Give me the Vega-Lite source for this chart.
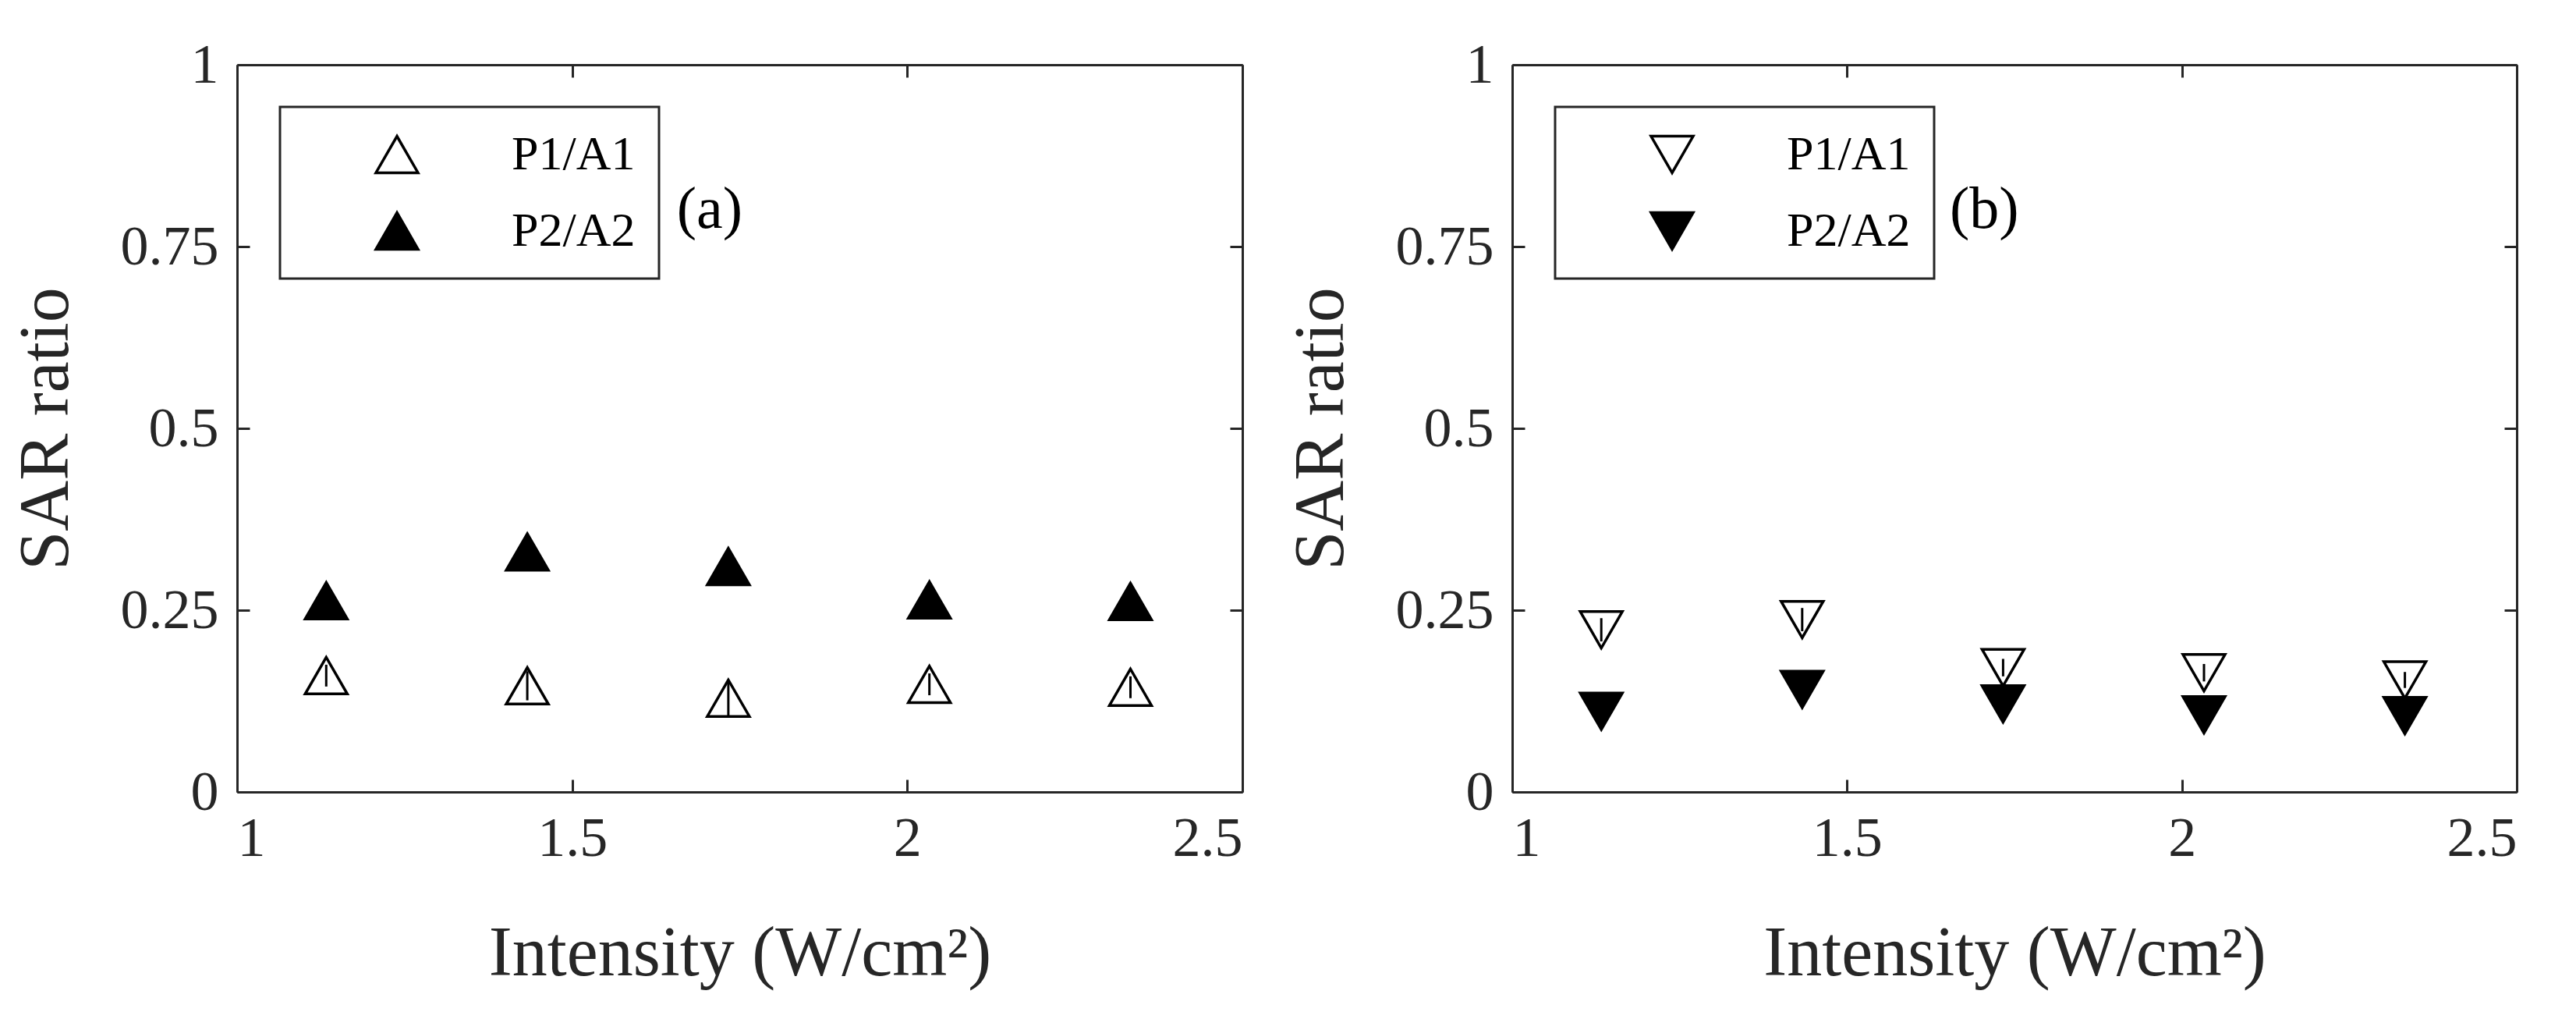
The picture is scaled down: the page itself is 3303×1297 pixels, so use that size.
{
  "$schema": "https://vega.github.io/schema/vega-lite/v6.json",
  "background": "white",
  "padding": {"left": 14, "top": 47, "right": 10, "bottom": 10},
  "bounds": "flush",
  "spacing": 346,
  "config": {
    "font": "Liberation Serif",
    "view": {"stroke": null},
    "axis": {
      "grid": false,
      "domainColor": "#262626",
      "domainWidth": 3,
      "tickColor": "#262626",
      "tickWidth": 3,
      "tickSize": -16,
      "labelFont": "Liberation Serif",
      "labelFontSize": 72,
      "labelColor": "#262626",
      "titleFont": "Liberation Serif",
      "titleFontSize": 90,
      "titleFontWeight": "normal",
      "titleColor": "#262626"
    },
    "legend": {
      "orient": "none",
      "legendX": 55,
      "legendY": 54,
      "padding": 30,
      "rowPadding": 36,
      "strokeColor": "#262626",
      "strokeWidth": 3,
      "fillColor": "white",
      "labelFont": "Liberation Serif",
      "labelFontSize": 62,
      "labelColor": "black",
      "symbolSize": 2916,
      "symbolStrokeColor": "black",
      "symbolStrokeWidth": 3.5,
      "symbolOffset": 89,
      "labelOffset": 116,
      "title": null
    }
  },
  "datasets": {
    "sar": [
      {"panel": "a", "intensity": 1.133, "series": "P1/A1", "ratio": 0.160, "err": 0.015},
      {"panel": "a", "intensity": 1.433, "series": "P1/A1", "ratio": 0.146, "err": 0.020},
      {"panel": "a", "intensity": 1.733, "series": "P1/A1", "ratio": 0.129, "err": 0.024},
      {"panel": "a", "intensity": 2.033, "series": "P1/A1", "ratio": 0.148, "err": 0.015},
      {"panel": "a", "intensity": 2.333, "series": "P1/A1", "ratio": 0.144, "err": 0.015},
      {"panel": "a", "intensity": 1.133, "series": "P2/A2", "ratio": 0.263, "err": 0.012},
      {"panel": "a", "intensity": 1.433, "series": "P2/A2", "ratio": 0.330, "err": 0.020},
      {"panel": "a", "intensity": 1.733, "series": "P2/A2", "ratio": 0.310, "err": 0.020},
      {"panel": "a", "intensity": 2.033, "series": "P2/A2", "ratio": 0.264, "err": 0.012},
      {"panel": "a", "intensity": 2.333, "series": "P2/A2", "ratio": 0.262, "err": 0.012},
      {"panel": "b", "intensity": 1.133, "series": "P1/A1", "ratio": 0.223, "err": 0.016},
      {"panel": "b", "intensity": 1.433, "series": "P1/A1", "ratio": 0.237, "err": 0.016},
      {"panel": "b", "intensity": 1.733, "series": "P1/A1", "ratio": 0.171, "err": 0.012},
      {"panel": "b", "intensity": 2.033, "series": "P1/A1", "ratio": 0.164, "err": 0.012},
      {"panel": "b", "intensity": 2.333, "series": "P1/A1", "ratio": 0.154, "err": 0.011},
      {"panel": "b", "intensity": 1.133, "series": "P2/A2", "ratio": 0.111, "err": 0.012},
      {"panel": "b", "intensity": 1.433, "series": "P2/A2", "ratio": 0.141, "err": 0.012},
      {"panel": "b", "intensity": 1.733, "series": "P2/A2", "ratio": 0.121, "err": 0.012},
      {"panel": "b", "intensity": 2.033, "series": "P2/A2", "ratio": 0.106, "err": 0.012},
      {"panel": "b", "intensity": 2.333, "series": "P2/A2", "ratio": 0.105, "err": 0.012}
    ],
    "tags": [
      {"panel": "a", "tag": "(a)", "intensity": 1.705, "ratio": 0.80},
      {"panel": "b", "tag": "(b)", "intensity": 1.705, "ratio": 0.80}
    ]
  },
  "hconcat": [
    {
      "width": 1289,
      "height": 932,
      "resolve": {"axis": {"x": "independent", "y": "independent"}},
      "layer": [
        {
          "data": {"name": "sar"},
          "transform": [{"filter": "datum.panel === 'a'"}],
          "mark": {"type": "point", "shape": "triangle-up", "filled": true, "size": 2916, "stroke": "black", "strokeWidth": 3.5, "opacity": 1},
          "encoding": {
            "x": {"field": "intensity", "type": "quantitative", "scale": {"domain": [1, 2.5], "nice": false, "zero": false},
                  "axis": {"title": "Intensity (W/cm²)", "values": [1, 1.5, 2, 2.5], "format": ".1~f", "labelPadding": 40, "titlePadding": 68}},
            "y": {"field": "ratio", "type": "quantitative", "scale": {"domain": [0, 1], "nice": false},
                  "axis": {"title": "SAR ratio", "values": [0, 0.25, 0.5, 0.75, 1], "format": ".2~f", "labelPadding": 40, "titlePadding": 49}},
            "fill": {"field": "series", "type": "nominal", "scale": {"domain": ["P1/A1", "P2/A2"], "range": ["white", "black"]},
                     "legend": {"symbolType": "triangle-up"}}
          }
        },
        {
          "data": {"name": "sar"},
          "transform": [{"filter": "datum.panel === 'a'"}],
          "mark": {"type": "errorbar", "ticks": false, "rule": {"stroke": "black", "strokeWidth": 3}},
          "encoding": {
            "x": {"field": "intensity", "type": "quantitative", "scale": {"domain": [1, 2.5], "nice": false, "zero": false},
                  "axis": {"orient": "top", "title": null, "labels": false, "values": [1, 1.5, 2, 2.5]}},
            "y": {"field": "ratio", "type": "quantitative", "scale": {"domain": [0, 1], "nice": false},
                  "axis": {"orient": "right", "title": null, "labels": false, "values": [0, 0.25, 0.5, 0.75, 1]}},
            "yError": {"field": "err"}
          }
        },
        {
          "data": {"name": "tags"},
          "transform": [{"filter": "datum.panel === 'a'"}],
          "mark": {"type": "text", "font": "Liberation Serif", "fontSize": 76, "align": "center", "baseline": "middle", "color": "black"},
          "encoding": {
            "x": {"field": "intensity", "type": "quantitative", "axis": null},
            "y": {"field": "ratio", "type": "quantitative", "axis": null},
            "text": {"field": "tag"}
          }
        }
      ]
    },
    {
      "width": 1288,
      "height": 932,
      "resolve": {"axis": {"x": "independent", "y": "independent"}},
      "layer": [
        {
          "data": {"name": "sar"},
          "transform": [{"filter": "datum.panel === 'b'"}],
          "mark": {"type": "point", "shape": "triangle-down", "filled": true, "size": 2916, "stroke": "black", "strokeWidth": 3.5, "opacity": 1},
          "encoding": {
            "x": {"field": "intensity", "type": "quantitative", "scale": {"domain": [1, 2.5], "nice": false, "zero": false},
                  "axis": {"title": "Intensity (W/cm²)", "values": [1, 1.5, 2, 2.5], "format": ".1~f", "labelPadding": 40, "titlePadding": 68}},
            "y": {"field": "ratio", "type": "quantitative", "scale": {"domain": [0, 1], "nice": false},
                  "axis": {"title": "SAR ratio", "values": [0, 0.25, 0.5, 0.75, 1], "format": ".2~f", "labelPadding": 40, "titlePadding": 49}},
            "fill": {"field": "series", "type": "nominal", "scale": {"domain": ["P1/A1", "P2/A2"], "range": ["white", "black"]},
                     "legend": {"symbolType": "triangle-down"}}
          }
        },
        {
          "data": {"name": "sar"},
          "transform": [{"filter": "datum.panel === 'b'"}],
          "mark": {"type": "errorbar", "ticks": false, "rule": {"stroke": "black", "strokeWidth": 3}},
          "encoding": {
            "x": {"field": "intensity", "type": "quantitative", "scale": {"domain": [1, 2.5], "nice": false, "zero": false},
                  "axis": {"orient": "top", "title": null, "labels": false, "values": [1, 1.5, 2, 2.5]}},
            "y": {"field": "ratio", "type": "quantitative", "scale": {"domain": [0, 1], "nice": false},
                  "axis": {"orient": "right", "title": null, "labels": false, "values": [0, 0.25, 0.5, 0.75, 1]}},
            "yError": {"field": "err"}
          }
        },
        {
          "data": {"name": "tags"},
          "transform": [{"filter": "datum.panel === 'b'"}],
          "mark": {"type": "text", "font": "Liberation Serif", "fontSize": 76, "align": "center", "baseline": "middle", "color": "black"},
          "encoding": {
            "x": {"field": "intensity", "type": "quantitative", "axis": null},
            "y": {"field": "ratio", "type": "quantitative", "axis": null},
            "text": {"field": "tag"}
          }
        }
      ]
    }
  ],
  "resolve": {"scale": {"fill": "independent"}, "legend": {"fill": "independent"}}
}
